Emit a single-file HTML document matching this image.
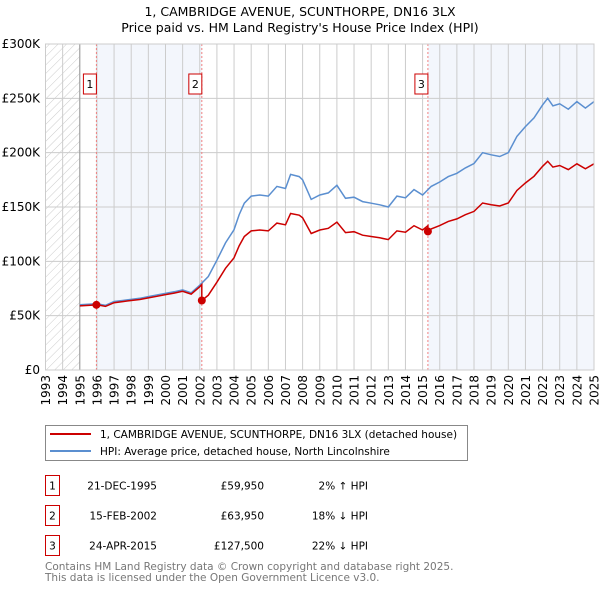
<!DOCTYPE html>
<html><head><meta charset="utf-8"><style>
body{margin:0;background:#fff;}
svg text{font-family:"DejaVu Sans","Liberation Sans",sans-serif;}
</style></head><body>
<svg id="c" width="600" height="590" xmlns="http://www.w3.org/2000/svg"></svg>
<script>
const hpiYears=[1995,1995.5,1996,1996.5,1997,1997.5,1998,1998.5,1999,1999.5,2000,2000.5,2001,2001.5,2002,2002.5,2003,2003.5,2004,2004.3,2004.6,2005,2005.5,2006,2006.5,2007,2007.3,2007.8,2008,2008.5,2009,2009.5,2010,2010.5,2011,2011.5,2012,2012.5,2013,2013.5,2014,2014.5,2015,2015.5,2016,2016.5,2017,2017.5,2018,2018.5,2019,2019.5,2020,2020.5,2021,2021.5,2022,2022.3,2022.6,2023,2023.5,2024,2024.5,2025];
const hpiValues=[60000,60500,61000,59500,63000,64000,65000,66000,67500,69000,70600,72000,73700,71000,78000,86000,101000,117000,129000,143000,153500,160000,161000,160000,169000,167000,180000,178000,175000,157000,161000,163000,170000,158000,159000,155000,153500,152000,150000,160000,158500,166000,161000,169000,173000,178000,181000,186000,190000,200000,198000,196500,200000,215000,224000,232000,244000,250000,243000,245000,240000,247000,241000,247000];
const saleDates=[1995.97,2002.12,2015.31];
const salePrices=[59950,63950,127500];
const saleLabels=["1","2","3"];
const yTicks=[0,50000,100000,150000,200000,250000,300000];
const yTickLabels=["£0","£50K","£100K","£150K","£200K","£250K","£300K"];
const xTicks=[1993,1994,1995,1996,1997,1998,1999,2000,2001,2002,2003,2004,2005,2006,2007,2008,2009,2010,2011,2012,2013,2014,2015,2016,2017,2018,2019,2020,2021,2022,2023,2024,2025];

const NS="http://www.w3.org/2000/svg";
const svg=document.getElementById('c');
const L=45.5,R=594,T=44,B=370;
const X=v=>L+(v-1993)/(2025-1993)*(R-L);
const Y=v=>B-v/300000*(B-T);
function el(tag,attrs,parent){const e=document.createElementNS(NS,tag);for(const k in attrs)e.setAttribute(k,attrs[k]);(parent||svg).appendChild(e);return e;}
function hpiAt(t){for(let i=0;i<hpiYears.length-1;i++){if(t<=hpiYears[i+1]){const f=(t-hpiYears[i])/(hpiYears[i+1]-hpiYears[i]);return hpiValues[i]+f*(hpiValues[i+1]-hpiValues[i]);}}return hpiValues[hpiValues.length-1];}

let t=el('text',{x:300,y:16,'text-anchor':'middle','font-size':12.5,fill:'#000'});t.textContent='1, CAMBRIDGE AVENUE, SCUNTHORPE, DN16 3LX';

t=el('text',{x:300,y:32,'text-anchor':'middle','font-size':12.5,fill:'#000'});t.textContent="Price paid vs. HM Land Registry's House Price Index (HPI)";


const defs=el('defs',{});
const pat=el('pattern',{id:'h',patternUnits:'userSpaceOnUse',width:6,height:6,patternTransform:'rotate(45)'},defs);
el('line',{x1:0,y1:0,x2:0,y2:6,stroke:'#ccc','stroke-width':1},pat);
let r=el('rect',{x:L,y:T,width:X(1995)-L,height:B-T,fill:'url(#h)'});

r=el('rect',{x:X(saleDates[0]),y:T,width:X(saleDates[1])-X(saleDates[0]),height:B-T,fill:'#f3f6fc'});

r=el('rect',{x:X(saleDates[2]),y:T,width:R-X(saleDates[2]),height:B-T,fill:'#f3f6fc'});


xTicks.forEach((v,i)=>{
  const g=el('line',{x1:X(v),x2:X(v),y1:T,y2:B,stroke:'#ccc','stroke-width':1});
  
  const tx=el('text',{x:0,y:0,'font-size':12,fill:'#000','text-anchor':'end',transform:`translate(${X(v)+4.5},${B+5}) rotate(-90)`});
  tx.textContent=v;
  
});
yTicks.forEach((v,i)=>{
  const g=el('line',{x1:L,x2:R,y1:Y(v),y2:Y(v),stroke:'#ccc','stroke-width':1});
  
  const tx=el('text',{x:40,y:Y(v)+4,'font-size':12,fill:'#000','text-anchor':'end'});
  tx.textContent=yTickLabels[i];
  
});
el('line',{x1:X(1995),x2:X(1995),y1:T,y2:B,stroke:'#999','stroke-width':1});

saleDates.forEach((d,i)=>{
  const l=el('line',{x1:X(d),x2:X(d),y1:T,y2:B,stroke:'#f08080','stroke-width':1,'stroke-dasharray':'2,2'});
  
  const bx=el('rect',{x:X(d)-13,y:74,width:13,height:20,fill:'#fff',stroke:'#c00','stroke-width':1});
  
  const tx=el('text',{x:X(d)-6.5,y:88,'font-size':11,'text-anchor':'middle',fill:'#000'});
  tx.textContent=saleLabels[i];
  
});

let pts=hpiYears.map((y,i)=>X(y).toFixed(1)+','+Y(hpiValues[i]).toFixed(1)).join(' ');
let p=el('polyline',{points:pts,fill:'none',stroke:'#5b8fd0','stroke-width':1.5});


let rp=[];
const stepYears=[];for(const y of hpiYears)stepYears.push(y);
saleDates.forEach(d=>stepYears.push(d));
stepYears.sort((a,b)=>a-b);
stepYears.forEach(y=>{
  let k=0;for(let i=0;i<saleDates.length;i++)if(y>=saleDates[i])k=i;
  const f=salePrices[k]/hpiAt(saleDates[k]);
  if(saleDates.includes(y)&&k>0){
    const fp=salePrices[k-1]/hpiAt(saleDates[k-1]);
    rp.push(X(y).toFixed(1)+','+Y(hpiAt(y)*fp).toFixed(1));
  }
  rp.push(X(y).toFixed(1)+','+Y(hpiAt(y)*f).toFixed(1));
});
p=el('polyline',{points:rp.join(' '),fill:'none',stroke:'#cc0000','stroke-width':1.5});


saleDates.forEach((d,i)=>{
  const c=el('circle',{cx:X(d),cy:Y(salePrices[i]),r:4,fill:'#cc0000'});
  
});
el('rect',{x:L,y:T,width:R-L,height:B-T,fill:'none',stroke:'#ccc'});

const lg=el('g',{});

el('rect',{x:45.5,y:425.5,width:422,height:35,fill:'#fff',stroke:'#888'},lg);
el('line',{x1:50,x2:91,y1:434,y2:434,stroke:'#cc0000','stroke-width':2},lg);
el('line',{x1:50,x2:91,y1:451,y2:451,stroke:'#5b8fd0','stroke-width':2},lg);
t=el('text',{x:100,y:438,'font-size':10.5},lg);t.textContent='1, CAMBRIDGE AVENUE, SCUNTHORPE, DN16 3LX (detached house)';

t=el('text',{x:100,y:455,'font-size':10.5},lg);t.textContent='HPI: Average price, detached house, North Lincolnshire';


const tDates=["21-DEC-1995","15-FEB-2002","24-APR-2015"];
const tPrices=["£59,950","£63,950","£127,500"];
const tHpi=["2% ↑ HPI","18% ↓ HPI","22% ↓ HPI"];
[0,1,2].forEach(i=>{
  const yy=475.5+i*30;
  const b=el('rect',{x:45.5,y:yy,width:14,height:20,fill:'#fff',stroke:'#c00'});
  
  let tx=el('text',{x:52.5,y:yy+14,'font-size':10.5,'text-anchor':'middle'});tx.textContent=saleLabels[i];
  
  tx=el('text',{x:157,y:yy+14,'font-size':10.5,'text-anchor':'end'});tx.textContent=tDates[i];
  
  tx=el('text',{x:264,y:yy+14,'font-size':10.5,'text-anchor':'end'});tx.textContent=tPrices[i];
  
  tx=el('text',{x:368,y:yy+14,'font-size':10.5,'text-anchor':'end'});tx.textContent=tHpi[i];
  
});
t=el('text',{x:45,y:570,'font-size':10.5,fill:'#777'});t.textContent='Contains HM Land Registry data © Crown copyright and database right 2025.';

t=el('text',{x:45,y:581,'font-size':10.5,fill:'#777'});t.textContent='This data is licensed under the Open Government Licence v3.0.';

</script>
</body></html>
